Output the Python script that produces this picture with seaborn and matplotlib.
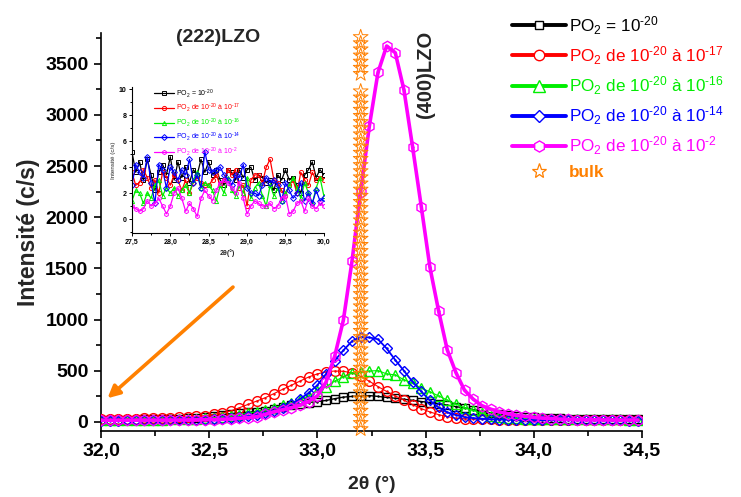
import numpy as np
import seaborn as sns
from matplotlib import pyplot as plt
from matplotlib.lines import Line2D
from matplotlib.ticker import MultipleLocator

# main scan, 0.04 deg step
two_theta = np.round(np.arange(32.0, 34.49, 0.04), 2)

po2_20 = [22, 22, 23, 23, 24, 25, 26, 28, 30, 33,
          37, 43, 50, 60, 72, 82, 90, 96, 102, 112,
          128, 150, 163, 178, 190, 200, 210, 228, 243, 250,
          255, 258, 250, 240, 232, 222, 212, 200, 190, 180,
          165, 150, 137, 122, 105, 90, 76, 65, 57, 50,
          45, 41, 38, 35, 33, 31, 30, 29, 28, 27, 27, 26, 26]
po2_17 = [30, 31, 32, 33, 34, 35, 37, 39, 41, 44,
          48, 54, 62, 75, 88, 108, 140, 172, 205, 238,
          278, 320, 359, 400, 440, 470, 490, 498, 495, 480,
          445, 398, 346, 298, 255, 212, 170, 131, 98, 72,
          52, 38, 32, 28, 26, 25, 24, 24, 23, 23,
          23, 22, 22, 22, 22, 21, 21, 21, 21, 20, 20, 20, 20]
po2_16 = [20, 20, 21, 21, 22, 22, 23, 24, 25, 27,
          29, 32, 36, 42, 50, 60, 72, 86, 102, 120,
          140, 162, 188, 218, 255, 300, 345, 400, 440, 478,
          492, 498, 502, 470, 460, 412, 380, 330, 295, 255,
          213, 174, 140, 114, 84, 62, 48, 40, 35, 32,
          30, 29, 28, 28, 27, 27, 26, 26, 25, 25, 25, 24, 24]
po2_14 = [14, 14, 14, 15, 15, 15, 16, 16, 17, 18,
          19, 21, 24, 28, 33, 40, 48, 58, 72, 90,
          112, 140, 175, 225, 285, 360, 470, 600, 700, 790,
          830, 826, 808, 718, 605, 500, 393, 298, 210, 142,
          95, 68, 48, 38, 31, 27, 24, 22, 21, 20,
          19, 18, 18, 17, 17, 16, 16, 16, 15, 15, 15, 14, 14]
po2_2 = [17, 17, 17, 17, 18, 18, 18, 18, 19, 19,
         20, 21, 22, 24, 26, 30, 36, 42, 52, 75,
         100, 120, 140, 165, 200, 255, 390, 643, 995, 1572,
         2250, 2890, 3415, 3673, 3607, 3243, 2685, 2104, 1511, 1086,
         705, 483, 310, 223, 160, 126, 100, 81, 65, 55,
         45, 38, 33, 28, 25, 23, 22, 21, 20, 20, 19, 19, 19]

bulk_x = 33.2
bulk_y = [-70, -10, 50, 110, 170, 230, 290, 350, 410, 470,
          530, 590, 650, 710, 770, 830, 890, 950, 1010, 1070,
          1130, 1190, 1250, 1310, 1370, 1430, 1490, 1550, 1610, 1670,
          1730, 1790, 1850, 1910, 1970, 2030, 2090, 2150, 2210, 2270,
          2330, 2390, 2450, 2510, 2570, 2630, 2690, 2750, 2810, 2870,
          2930, 2990, 3050, 3110, 3170, 3230, 3400, 3460, 3520, 3580,
          3640, 3700, 3760]

# inset (222) scan, 0.05 deg step
inset_theta = np.round(np.arange(27.5, 30.01, 0.05), 2)
in_20 = [5.2, 3.6, 4.4, 3.0, 4.6, 3.4, 2.2, 3.6, 4.2, 3.4, 4.8, 3.0, 4.4, 3.2, 4.0, 2.8, 3.8,
         3.4, 4.6, 3.6, 4.4, 3.4, 3.8, 3.0, 2.6, 3.8, 3.6, 3.0, 3.8, 3.2, 3.8, 4.0, 3.0, 3.4,
         3.2, 2.8, 3.0, 2.2, 3.4, 3.0, 3.8, 3.0, 3.2, 2.6, 2.0, 3.4, 3.8, 4.4, 3.2, 3.8, 3.4]
in_17 = [3.6, 2.6, 2.8, 3.8, 3.2, 2.4, 3.0, 2.0, 3.6, 3.2, 2.6, 3.4, 3.0, 2.2, 3.0, 2.0, 2.8,
         3.2, 2.8, 2.6, 2.6, 3.0, 3.4, 2.6, 3.0, 3.8, 3.4, 3.8, 2.4, 2.6, 1.0, 3.0, 3.4, 3.4,
         2.8, 4.0, 4.6, 3.0, 2.8, 2.2, 1.8, 2.6, 3.0, 2.0, 3.6, 3.0, 2.6, 3.6, 3.0, 3.2, 3.0]
in_16 = [1.4, 2.2, 2.0, 1.2, 2.0, 1.6, 2.6, 3.0, 1.8, 2.4, 2.0, 2.4, 1.8, 2.2, 2.6, 2.0, 3.0,
         3.6, 2.4, 2.8, 2.6, 2.2, 1.4, 2.6, 2.0, 3.2, 2.2, 1.8, 2.6, 2.0, 3.2, 1.6, 2.4, 2.8,
         1.8, 1.0, 2.6, 1.8, 2.4, 1.4, 2.0, 2.6, 3.2, 2.4, 1.6, 2.8, 2.0, 1.2, 2.4, 3.2, 1.8]
in_14 = [2.6, 4.2, 3.6, 3.2, 4.8, 2.8, 1.2, 4.2, 3.8, 2.4, 4.0, 3.6, 3.0, 3.8, 3.4, 4.6, 2.8,
         3.4, 2.4, 5.2, 3.8, 3.6, 3.8, 4.0, 3.4, 3.0, 2.6, 3.4, 3.2, 4.2, 2.4, 2.0, 2.0, 1.8,
         2.6, 3.2, 2.8, 3.0, 2.6, 1.4, 2.8, 2.2, 1.6, 2.0, 2.8, 1.4, 2.0, 1.2, 2.2, 1.4, 1.6]
in_2 = [1.0, 0.8, 0.6, 0.8, 1.4, 1.0, 1.2, 1.6, 1.0, 0.4, 1.0, 2.0, 2.4, 1.6, 0.6, 1.2, 0.8,
        0.2, 1.6, 2.2, 1.8, 1.4, 2.2, 2.8, 3.0, 2.8, 2.4, 2.0, 2.8, 1.6, 0.4, 1.0, 1.4, 1.2,
        1.0, 1.0, 1.2, 0.8, 1.0, 1.6, 1.8, 0.4, 0.6, 1.2, 1.4, 0.6, 1.6, 1.0, 0.8, 1.2, 1.0]

labels = [r"PO$_2$ = 10$^{\text{-20}}$",
          r"PO$_2$ de 10$^{\text{-20}}$ à 10$^{\text{-17}}$",
          r"PO$_2$ de 10$^{\text{-20}}$ à 10$^{\text{-16}}$",
          r"PO$_2$ de 10$^{\text{-20}}$ à 10$^{\text{-14}}$",
          r"PO$_2$ de 10$^{\text{-20}}$ à 10$^{\text{-2}}$"]
colors = ["black", "#ff0000", "#00ee00", "#0000ff", "#ff00ff"]
markers = ["s", "o", "^", "D", "h"]
msizes = [5.5, 7, 7.5, 5.5, 7.5]
lwidths = [1.0, 0.8, 0.8, 1.3, 2.6]
orange = "#ff8000"

xtick_vals = [32.0, 32.5, 33.0, 33.5, 34.0, 34.5]
xtick_labels = ["32,0", "32,5", "33,0", "33,5", "34,0", "34,5"]
in_xtick_vals = [27.5, 28.0, 28.5, 29.0, 29.5, 30.0]
in_xtick_labels = ["27,5", "28,0", "28,5", "29,0", "29,5", "30,0"]

sns.set_theme(style="ticks")
plt.rcParams['font.family'] = ['Liberation Sans', 'DejaVu Sans']
plt.rcParams['mathtext.fontset'] = 'custom'
plt.rcParams['mathtext.rm'] = 'Liberation Sans'
plt.rcParams['mathtext.it'] = 'Liberation Sans:italic'
plt.rcParams['mathtext.bf'] = 'Liberation Sans:bold'
plt.rcParams['axes.edgecolor'] = 'black'
plt.rcParams['xtick.color'] = 'black'
plt.rcParams['ytick.color'] = 'black'

fig = plt.figure(figsize=(7.41, 4.97), dpi=100)
ax = fig.add_axes([0.1363, 0.1328, 0.7301, 0.8008])

main_series = [po2_20, po2_17, po2_16, po2_14, po2_2]
for i, vals in enumerate(main_series):
    c = colors[i]
    sns.lineplot(x=two_theta, y=vals, color=c, lw=lwidths[i], marker=markers[i],
                 ms=msizes[i], mfc='none', mec=c, mew=1.0, ax=ax, legend=False,
                 zorder=2 + i)
    ax.plot(two_theta, vals, ls='none', marker='.', ms=1.5, color=c, zorder=2 + i)

sns.scatterplot(x=[bulk_x] * len(bulk_y), y=bulk_y, marker='*', s=125,
                facecolor='none', edgecolor=orange, linewidth=0.7, ax=ax,
                legend=False, zorder=10, clip_on=False)

ax.set_xlim(32.0, 34.5)
ax.set_ylim(-88, 3800)
ax.set_xticks(xtick_vals)
ax.set_xticklabels(xtick_labels)
ax.xaxis.set_minor_locator(MultipleLocator(0.25))
ax.yaxis.set_major_locator(MultipleLocator(500))
ax.yaxis.set_minor_locator(MultipleLocator(250))
ax.tick_params(which='major', length=5, width=1.2, labelsize=14, pad=4)
ax.tick_params(which='minor', length=3.5, width=1.2)
for t in ax.get_xticklabels() + ax.get_yticklabels():
    t.set_fontweight('bold')
for s in ['left', 'bottom']:
    ax.spines[s].set_linewidth(1.2)
sns.despine(ax=ax)
ax.set_xlabel("2θ (°)", fontsize=14, fontweight='bold', labelpad=11)
ax.set_ylabel("Intensité (c/s)", fontsize=16.5, fontweight='bold', labelpad=4)

ax.text(33.5, 3392, "(400)LZO", rotation=90, ha='center', va='center',
        fontsize=14.5, fontweight='bold')
fig.text(218 / 741, 1 - 37 / 497, "(222)LZO", ha='center', va='center',
         fontsize=14, fontweight='bold')

ax.annotate('', xy=(32.03, 232), xytext=(32.61, 1318),
            arrowprops=dict(arrowstyle='-|>', color=orange, lw=2.6,
                            mutation_scale=18, shrinkA=0, shrinkB=0))

handles = [Line2D([0], [0], color=colors[i], lw=2.8, marker=markers[i],
                  ms=msizes[i] + 0.5, mfc='white', mec=colors[i], mew=1.0)
           for i in range(5)]
handles.append(Line2D([0], [0], ls='none', marker='*', ms=11, mfc='none',
                      mec=orange, mew=0.9))
leg = ax.legend(handles, labels + ["bulk"], loc='upper left',
                bbox_to_anchor=(500 / 741, 1 - 2 / 497), bbox_transform=fig.transFigure,
                frameon=False, fontsize=12.3, handlelength=3.15, handletextpad=0.2,
                labelspacing=0.44, borderaxespad=0.3)
for txt, c in zip(leg.get_texts(), colors + [orange]):
    txt.set_color(c)
leg.get_texts()[-1].set_fontweight('bold')

# inset
inset = fig.add_axes([0.178, 0.5306, 0.259, 0.295])
inset_series = [in_20, in_17, in_16, in_14, in_2]
for i, vals in enumerate(inset_series):
    c = colors[i]
    sns.lineplot(x=inset_theta, y=vals, color=c, lw=0.9, marker=markers[i],
                 ms=3, mfc='none', mec=c, mew=0.7, ax=inset, legend=False)
inset.set_xlim(27.5, 30.0)
inset.set_ylim(-1.1, 10.2)
inset.set_xticks(in_xtick_vals)
inset.set_xticklabels(in_xtick_labels)
inset.xaxis.set_minor_locator(MultipleLocator(0.25))
inset.yaxis.set_major_locator(MultipleLocator(2))
inset.yaxis.set_minor_locator(MultipleLocator(1))
inset.tick_params(which='major', length=2.5, width=0.7, labelsize=5, pad=1.5)
inset.tick_params(which='minor', length=1.5, width=0.7)
for t in inset.get_xticklabels() + inset.get_yticklabels():
    t.set_fontweight('bold')
for s in ['left', 'bottom']:
    inset.spines[s].set_linewidth(0.8)
sns.despine(ax=inset)
inset.set_facecolor('none')
inset.set_xlabel("2θ(°)", fontsize=5, fontweight='bold', labelpad=2)
inset.set_ylabel("Intensité (c/s)", fontsize=4.5, labelpad=2)

in_handles = [Line2D([0], [0], color=colors[i], lw=0.9, marker=markers[i],
                     ms=3, mfc='none', mec=colors[i], mew=0.7) for i in range(5)]
in_leg = inset.legend(in_handles, labels, loc='upper left', bbox_to_anchor=(0.08, 1.04),
                      frameon=False, fontsize=5, handlelength=3, handletextpad=0.3,
                      labelspacing=0.3)
for txt, c in zip(in_leg.get_texts(), colors):
    txt.set_color(c)

fig.savefig("out.png", dpi=100)
